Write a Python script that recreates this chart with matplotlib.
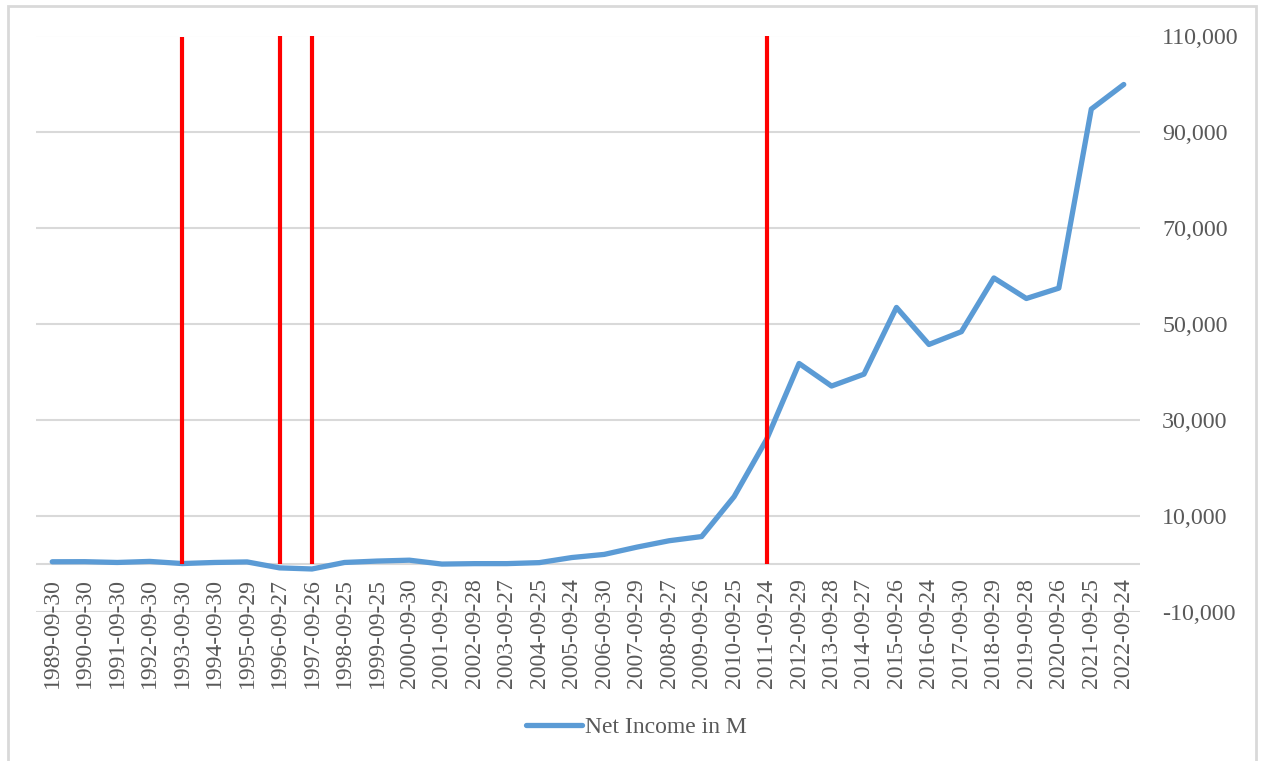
import matplotlib
matplotlib.use("Agg")
import matplotlib.pyplot as plt
from matplotlib.patches import Rectangle

# Fiscal year-end dates and net income (USD millions)
dates = [
    "1989-09-30", "1990-09-30", "1991-09-30", "1992-09-30", "1993-09-30",
    "1994-09-30", "1995-09-29", "1996-09-27", "1997-09-26", "1998-09-25",
    "1999-09-25", "2000-09-30", "2001-09-29", "2002-09-28", "2003-09-27",
    "2004-09-25", "2005-09-24", "2006-09-30", "2007-09-29", "2008-09-27",
    "2009-09-26", "2010-09-25", "2011-09-24", "2012-09-29", "2013-09-28",
    "2014-09-27", "2015-09-26", "2016-09-24", "2017-09-30", "2018-09-29",
    "2019-09-28", "2020-09-26", "2021-09-25", "2022-09-24",
]
net_income = [
    454, 475, 310, 530, 87, 310, 424, -816, -1045, 309,
    601, 786, -25, 65, 69, 276, 1335, 1989, 3496, 4834,
    5704, 14013, 25922, 41733, 37037, 39510, 53394, 45687, 48351, 59531,
    55256, 57411, 94680, 99803,
]

# Marker years highlighted with vertical red lines
marker_dates = ["1993-09-30", "1996-09-27", "1997-09-26", "2011-09-24"]
marker_tops = [109600, 110300, 110300, 110600]

y_ticks = [-10000, 10000, 30000, 50000, 70000, 90000, 110000]

text_color = "#595959"
grid_color = "#D9D9D9"
line_color = "#5B9BD5"
font = ["Liberation Serif", "DejaVu Serif"]
plt.rcParams["font.family"] = font

fig = plt.figure(figsize=(12.61, 7.61), dpi=100)
ax = fig.add_axes([36 / 1261, 1 - 612 / 761, (1140 - 36) / 1261, (612 - 35.5) / 761])

x = list(range(len(dates)))
ax.plot(x, net_income, color=line_color, linewidth=3.8,
        solid_capstyle="round", solid_joinstyle="round",
        label="Net Income in M", zorder=3)

for d, top in zip(marker_dates, marker_tops):
    xi = dates.index(d)
    ax.plot([xi, xi], [0, top], color="#FF0000", linewidth=3.0, zorder=4,
            solid_capstyle="butt")

ax.set_xlim(-0.5, len(dates) - 0.5)
ax.set_ylim(-10000, 110000)
ax.set_yticks(y_ticks)
ax.set_yticklabels([f"{v:,}" for v in y_ticks])
ax.yaxis.tick_right()
ax.tick_params(axis="y", length=0, pad=16, labelsize=17.3, labelcolor=text_color)

# gridlines plus the zero baseline
for v in y_ticks + [0]:
    ax.axhline(v, color=grid_color, linewidth=1.5, zorder=1)

ax.set_xticks([])
for xi, d in enumerate(dates):
    ax.text(xi, -3000, d, rotation=90, ha="center", va="top", fontsize=17,
            color=text_color, family=font)

for s in ax.spines.values():
    s.set_visible(False)

leg = fig.legend(loc="center", bbox_to_anchor=(636 / 1261, 1 - 727 / 761),
                 frameon=False, fontsize=17, handlelength=2.4,
                 handletextpad=0.1, labelcolor=text_color)

fig.patches.append(Rectangle((8 / 1261, -0.05), (1256 - 8) / 1261, 1.05 - 6 / 761,
                             transform=fig.transFigure, fill=False,
                             edgecolor=grid_color, linewidth=2))

fig.savefig("out.png", dpi=100)
